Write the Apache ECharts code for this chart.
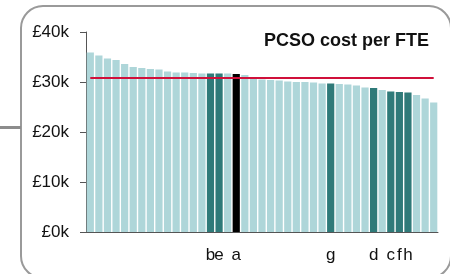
<!DOCTYPE html>
<html>
<head>
<meta charset="utf-8">
<script src="https://cdn.jsdelivr.net/npm/echarts@6/dist/echarts.min.js"></script>
<style>
  html, body { margin: 0; padding: 0; background: #fff; }
  #chart { width: 450px; height: 274px; }
</style>
</head>
<body>
<div id="chart"></div>
<script>
// cost per FTE (£) for each force, sorted high to low
const costPerFte = [
  35900, 35300, 34700, 34400, 33600, 33000, 32800, 32600, 32500, 32100,
  31900, 31900, 31800, 31700, 31700, 31700, 31700, 31600, 31400, 30800,
  30500, 30400, 30300, 30100, 30000, 30000, 29900, 29700, 29700, 29600,
  29500, 29300, 28900, 28800, 28400, 28100, 28000, 27900, 27400, 26700,
  25900
];
// labels under the highlighted forces
const forceLabels = [
  "", "", "", "", "", "", "", "", "", "",
  "", "", "", "", "b", "e", "", "a", "", "",
  "", "", "", "", "", "", "", "", "g", "",
  "", "", "", "d", "", "c", "f", "h", "", "",
  ""
];
const mainForce = "a";
const benchmark = 30900;
const yTicks = [0, 10000, 20000, 30000, 40000];

const chart = echarts.init(document.getElementById("chart"));

function barColour(i) {
  const l = forceLabels[i];
  if (l === mainForce) return "#000000";
  if (l) return "#2f7a79";
  return "#aed6d9";
}

const option = {
  animation: false,
  textStyle: { fontFamily: "Liberation Sans, Arial, sans-serif" },
  graphic: [
    {
      type: "rect",
      shape: { x: 21, y: 6, width: 430, height: 272, r: 22 },
      style: { fill: "none", stroke: "#9a9a9a", lineWidth: 2 },
      silent: true
    },
    {
      type: "rect",
      shape: { x: 0, y: 126, width: 21, height: 3 },
      style: { fill: "#8c8c8c" },
      silent: true
    }
  ],
  title: {
    text: "PCSO cost per FTE",
    right: 16,
    top: 27,
    textStyle: { fontSize: 18, fontWeight: "bold", color: "#111" }
  },
  grid: { left: 86, right: 12, top: 32, bottom: 42 },
  xAxis: {
    type: "category",
    data: costPerFte.map((v, i) => i),
    axisLine: { lineStyle: { color: "#555", width: 1 } },
    axisTick: { show: false },
    axisLabel: {
      interval: 0,
      margin: 15,
      fontSize: 17,
      color: "#111",
      formatter: (v, i) => forceLabels[i]
    }
  },
  yAxis: {
    type: "value",
    min: yTicks[0],
    max: yTicks[yTicks.length - 1],
    interval: 10000,
    splitLine: { show: false },
    axisLine: { show: true, lineStyle: { color: "#555", width: 1 } },
    axisTick: { show: true, length: 6, lineStyle: { color: "#555" } },
    axisLabel: {
      margin: 17,
      fontSize: 17,
      color: "#111",
      formatter: v => "£" + v / 1000 + "k"
    }
  },
  series: [
    {
      type: "bar",
      data: costPerFte,
      barCategoryGap: "16%",
      itemStyle: { color: p => barColour(p.dataIndex) },
      markLine: {
        silent: true,
        symbol: "none",
        label: { show: false },
        lineStyle: { color: "#d0103a", width: 2, type: "solid" },
        data: [[{ coord: [0, benchmark] }, { coord: [costPerFte.length - 1, benchmark] }]]
      }
    }
  ]
};

chart.setOption(option);
</script>
</body>
</html>
